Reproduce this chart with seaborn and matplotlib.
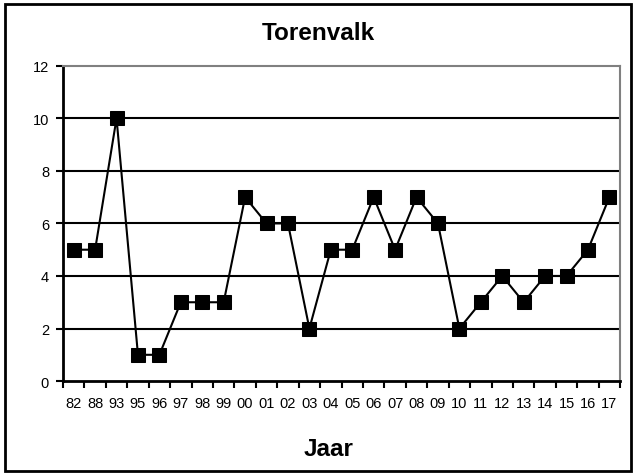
import numpy as np
import pandas as pd
import matplotlib
matplotlib.use("Agg")
import matplotlib.pyplot as plt
import matplotlib.patches as patches
import seaborn as sns

jaar = ["82", "88", "93", "95", "96", "97", "98", "99", "00", "01", "02", "03", "04",
        "05", "06", "07", "08", "09", "10", "11", "12", "13", "14", "15", "16", "17"]
aantal = [5, 5, 10, 1, 1, 3, 3, 3, 7, 6, 6, 2, 5, 5, 7, 5, 7, 6, 2, 3, 4, 3, 4, 4, 5, 7]

df = pd.DataFrame({"jaar": jaar, "aantal": aantal})

sns.set_style("white")
plt.rcParams["font.family"] = ["Liberation Sans", "DejaVu Sans"]
plt.rcParams["text.color"] = "black"
plt.rcParams["xtick.color"] = "black"
plt.rcParams["ytick.color"] = "black"

fig = plt.figure(figsize=(6.36, 4.77), dpi=100)
ax = fig.add_axes([0.099, 0.199, 0.876, 0.661])

# horizontal gridlines first so the line sits on top
for y in [2, 4, 6, 8, 10]:
    ax.axhline(y, color="black", lw=1.5, zorder=1)

sns.lineplot(data=df, x="jaar", y="aantal", sort=False, color="black", lw=1.5,
             marker="s", markersize=9.5, markeredgecolor="black",
             markerfacecolor="black", ax=ax, zorder=3)

ax.set_xlim(-0.5, len(jaar) - 0.5)
ax.set_ylim(0, 12)
ax.set_yticks(range(0, 13, 2))
ax.set_xticks(np.arange(-0.5, len(jaar), 1), minor=True)
ax.tick_params(axis="x", which="major", length=0, pad=11, labelsize=10.5)
ax.tick_params(axis="x", which="minor", length=5, width=1.5, direction="out", color="black")
ax.tick_params(axis="y", length=5, width=1.5, direction="out", color="black", labelsize=10.5, pad=5)
ax.tick_params(bottom=True, left=True, which="both")

for side in ["left", "bottom"]:
    ax.spines[side].set_color("black")
    ax.spines[side].set_linewidth(2)
for side in ["top", "right"]:
    ax.spines[side].set_color("#808080")
    ax.spines[side].set_linewidth(1.5)

ax.set_xlabel("")
ax.set_ylabel("")
fig.text(0.5, 0.93, "Torenvalk", ha="center", va="center", fontsize=17.5,
         fontweight="bold", color="black")
fig.text(0.517, 0.057, "Jaar", ha="center", va="center", fontsize=17.5,
         fontweight="bold", color="black")

border = patches.Rectangle((0.008, 0.011), 0.984, 0.978, transform=fig.transFigure,
                           fill=False, edgecolor="black", lw=2)
fig.patches.append(border)

fig.savefig("out.png", dpi=100)
